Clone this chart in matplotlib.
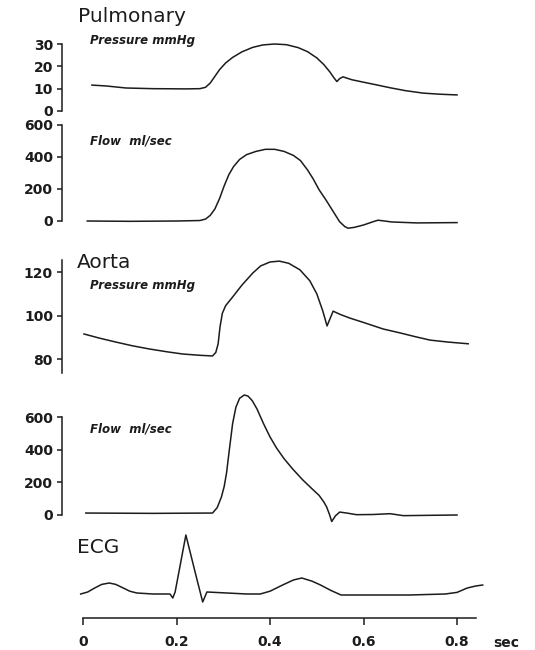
import matplotlib.pyplot as plt

pulm_p_t = [0.019, 0.05, 0.092, 0.15, 0.22, 0.25, 0.262, 0.272, 0.282, 0.292, 0.305,
            0.32, 0.34, 0.363, 0.385, 0.41, 0.435, 0.46, 0.48, 0.50, 0.515, 0.528,
            0.537, 0.543, 0.549, 0.556, 0.575, 0.60, 0.63, 0.657, 0.69, 0.728, 0.765, 0.80]
pulm_p = [11.6, 11.2, 10.3, 10.0, 9.9, 10.0, 10.6, 12.5, 15.5, 18.5, 21.5,
          24.0, 26.5, 28.5, 29.6, 30.0, 29.7, 28.4, 26.6, 23.8, 20.8, 17.5,
          14.8, 13.2, 14.5, 15.3, 14.0, 12.9, 11.6, 10.4, 9.1, 8.0, 7.5, 7.2]

pulm_f_t = [0.009, 0.10, 0.20, 0.25, 0.262, 0.272, 0.282, 0.292, 0.302, 0.312, 0.322,
            0.335, 0.35, 0.37, 0.39, 0.41, 0.43, 0.45, 0.465, 0.48, 0.492, 0.505,
            0.52, 0.535, 0.549, 0.56, 0.567, 0.58, 0.60, 0.62, 0.631, 0.645, 0.66,
            0.714, 0.80]
pulm_f = [0, -2, 0, 3, 12, 35, 75, 140, 220, 290, 340,
          385, 415, 435, 448, 448, 435, 410, 378, 320, 265, 195,
          130, 60, -5, -35, -45, -40, -25, -5, 5, 0, -6,
          -12, -10]

aorta_p_t = [0.002, 0.035, 0.07, 0.105, 0.142, 0.18, 0.213, 0.25, 0.277, 0.284, 0.289,
             0.293, 0.298, 0.305, 0.32, 0.34, 0.363, 0.38, 0.40, 0.42, 0.44, 0.464,
             0.485, 0.50, 0.513, 0.522, 0.535, 0.55, 0.571, 0.60, 0.642, 0.678, 0.71,
             0.742, 0.78, 0.824]
aorta_p = [91.5, 89.6, 87.8, 86.1, 84.6, 83.3, 82.3, 81.7, 81.4, 83.0, 87.0,
           94.7, 101.0, 104.5, 108.5, 114.0, 119.5, 122.8, 124.6, 125.0, 124.0, 121.0,
           116.0, 110.0, 102.0, 95.2, 102.0, 100.5, 98.8, 96.8, 93.8, 92.0, 90.3,
           88.7, 87.8, 87.0]

aorta_f_t = [0.006, 0.15, 0.277, 0.287, 0.296, 0.302, 0.307, 0.313, 0.32, 0.327, 0.335,
             0.345, 0.353, 0.362, 0.372, 0.386, 0.40, 0.414, 0.43, 0.449, 0.47, 0.49,
             0.505, 0.515, 0.521, 0.527, 0.532, 0.54, 0.549, 0.564, 0.585, 0.62, 0.657,
             0.685, 0.74, 0.80]
aorta_f = [12, 10, 12, 45, 110, 175, 258, 400, 560, 660, 715,
           735, 728, 700, 650, 560, 478, 410, 345, 280, 215, 160,
           120, 80, 50, 5, -40, -5, 18, 12, 2, 3, 8,
           -4, -2, 0]

ecg_t = [-0.005, 0.01, 0.025, 0.04, 0.056, 0.07, 0.086, 0.10, 0.115, 0.15, 0.186,
         0.192, 0.197, 0.220, 0.244, 0.256, 0.265, 0.308, 0.35, 0.379, 0.40, 0.427,
         0.45, 0.468, 0.49, 0.508, 0.53, 0.552, 0.625, 0.698, 0.775, 0.80, 0.822,
         0.84, 0.855]
ecg_v = [0, 0.05, 0.15, 0.24, 0.275, 0.24, 0.15, 0.07, 0.025, 0.0, 0.0,
         -0.1, 0.05, 1.475, 0.35, -0.2, 0.05, 0.025, 0.0, 0.0, 0.07, 0.225,
         0.35, 0.4, 0.32, 0.225, 0.09, -0.025, -0.025, -0.025, 0.0, 0.04, 0.15,
         0.2, 0.225]

time_ticks = [0, 0.2, 0.4, 0.6, 0.8]
time_labels = ['0', '0.2', '0.4', '0.6', '0.8']

W, H = 535, 650
INK = '#1c1c1c'
X0, X1 = -0.045, 0.9
AX_L, AX_W = 62, 441.75
TICK_FONT = dict(family='DejaVu Sans', weight='bold', size=10)

fig = plt.figure(figsize=(W / 100, H / 100), dpi=100)


def panel(ref_px, ref_val, px_per_unit, ylim):
    lo, hi = ylim
    bot = ref_px + (ref_val - lo) * px_per_unit
    top = ref_px - (hi - ref_val) * px_per_unit
    ax = fig.add_axes([AX_L / W, 1 - bot / H, AX_W / W, (bot - top) / H])
    ax.set_xlim(X0, X1)
    ax.set_ylim(lo, hi)
    ax.patch.set_alpha(0)
    for s in ['top', 'right', 'bottom']:
        ax.spines[s].set_visible(False)
    ax.spines['left'].set_color(INK)
    ax.spines['left'].set_linewidth(1.1)
    ax.set_xticks([])
    ax.tick_params(axis='y', direction='out', length=3.5, width=1.1, color=INK,
                   pad=3, labelcolor=INK)
    return ax


def yticks(ax, ticks):
    ax.set_yticks(ticks)
    ax.set_yticklabels([str(v) for v in ticks], fontdict=TICK_FONT)


def trace(ax, t, v):
    ax.plot(t, v, color=INK, lw=1.1, clip_on=False)


ax_pp = panel(111, 0, 2.233, (0, 31))
ax_pp.spines['left'].set_bounds(0, 30)
yticks(ax_pp, [0, 10, 20, 30])
trace(ax_pp, pulm_p_t, pulm_p)

ax_pf = panel(221, 0, 0.16, (-60, 610))
ax_pf.spines['left'].set_bounds(0, 600)
yticks(ax_pf, [0, 200, 400, 600])
trace(ax_pf, pulm_f_t, pulm_f)

ax_ap = panel(359, 80, 2.175, (73.6, 125.6))
ax_ap.spines['left'].set_bounds(73.6, 125.5)
yticks(ax_ap, [80, 100, 120])
trace(ax_ap, aorta_p_t, aorta_p)

ax_af = panel(515, 0, 0.1633, (-60, 750))
ax_af.spines['left'].set_bounds(0, 600)
yticks(ax_af, [0, 200, 400, 600])
trace(ax_af, aorta_f_t, aorta_f)

ax_ecg = panel(594, 0, 40, (-0.6, 1.6))
ax_ecg.spines['left'].set_visible(False)
ax_ecg.set_yticks([])
ax_ecg.spines['bottom'].set_visible(True)
ax_ecg.spines['bottom'].set_color(INK)
ax_ecg.spines['bottom'].set_linewidth(1.1)
ax_ecg.spines['bottom'].set_bounds(0, 0.84)
ax_ecg.set_xticks(time_ticks)
ax_ecg.set_xticklabels(time_labels, fontdict=TICK_FONT)
ax_ecg.tick_params(axis='x', direction='out', length=5, width=1.1, color=INK,
                   pad=7, labelcolor=INK)
trace(ax_ecg, ecg_t, ecg_v)


def label(x, y, s, **kw):
    fig.text(x / W, 1 - y / H, s, color=INK, va='baseline', **kw)


SUB = dict(fontsize=8.5, fontweight='bold', style='italic', fontfamily='DejaVu Sans')
label(78, 22, 'Pulmonary', fontsize=14.5, fontfamily='DejaVu Sans')
label(90, 44, 'Pressure mmHg', **SUB)
label(90, 144, 'Flow  ml/sec', **SUB)
label(77, 268, 'Aorta', fontsize=14.5, fontfamily='DejaVu Sans')
label(90, 289, 'Pressure mmHg', **SUB)
label(90, 433, 'Flow  ml/sec', **SUB)
label(77, 553, 'ECG', fontsize=14.5, fontfamily='DejaVu Sans')
label(493, 647, 'sec', fontsize=10, fontweight='bold', fontfamily='DejaVu Sans')

fig.savefig('out.png', dpi=100)
